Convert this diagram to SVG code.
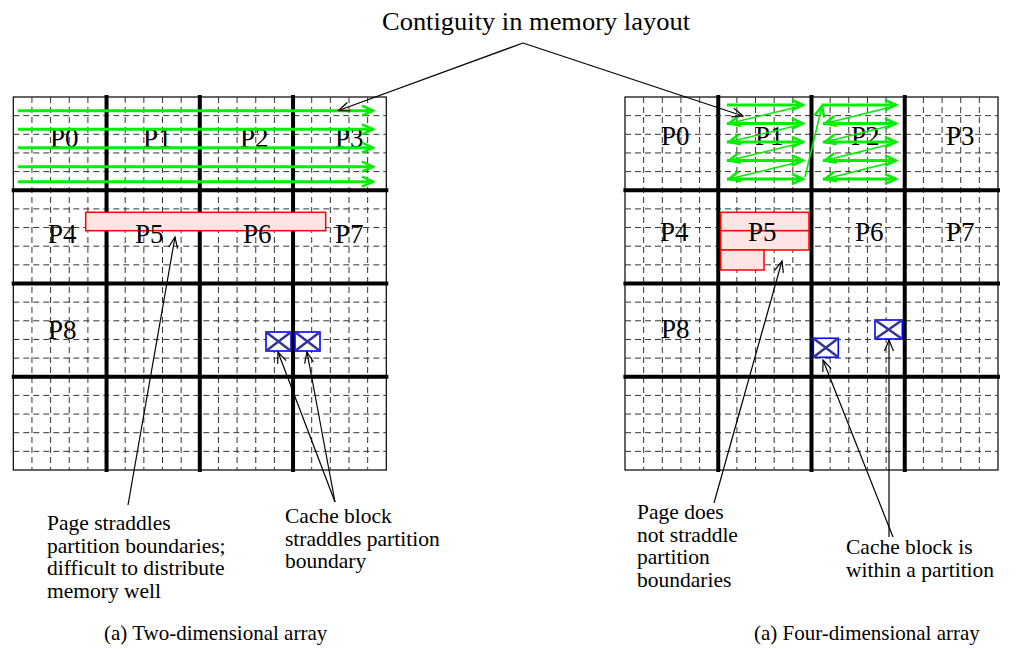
<svg xmlns="http://www.w3.org/2000/svg" xmlns:xlink="http://www.w3.org/1999/xlink" width="1024" height="649" viewBox="0 0 1024 649">
<style>
text{font-family:"Liberation Serif","Times New Roman",serif;fill:#000}
.p{font-size:27px}
.lbl{font-size:21.5px}
.cap{font-size:21px}
.title{font-size:26px}
.dash{fill:none;stroke:#333;stroke-width:1;stroke-dasharray:6 4}
.thick{fill:none;stroke:#000;stroke-width:4}
.border{fill:#fff;stroke:#000;stroke-width:1.2}
.page{fill:#ffe4e4;stroke:#f00;stroke-width:1.5}
.cb{fill:#fff;stroke:#0000ff;stroke-width:1.6}
.cx{fill:none;stroke:#333399;stroke-width:2.5}
.gr{fill:none;stroke:#00ee00;stroke-width:3;marker-end:url(#ga)}
.gd{fill:none;stroke:#00ee00;stroke-width:1.6;marker-end:url(#ga)}
.conn path{fill:none;stroke:#000;stroke-width:1.2;marker-end:url(#ba)}
</style>
<defs>
<marker id="ga" markerUnits="userSpaceOnUse" markerWidth="14" markerHeight="12" refX="11" refY="5" orient="auto" overflow="visible">
<path d="M0,0 L11,5 L0,10" fill="none" stroke="#00ee00" stroke-width="2.5"/>
</marker>
<marker id="ba" markerUnits="userSpaceOnUse" markerWidth="12" markerHeight="10" refX="11" refY="4.5" orient="auto" overflow="visible">
<path d="M0,0 L11,4.5 L0,9" fill="none" stroke="#000" stroke-width="1.2"/>
</marker>
<g id="grid">
<rect class="border" x="0" y="0" width="373" height="373"/>
<path class="dash" d="M18.65 0V373M37.3 0V373M55.95 0V373M74.6 0V373M111.9 0V373M130.55 0V373M149.2 0V373M167.85 0V373M205.15 0V373M223.8 0V373M242.45 0V373M261.1 0V373M298.4 0V373M317.05 0V373M335.7 0V373M354.35 0V373M0 18.65H373M0 37.3H373M0 55.95H373M0 74.6H373M0 111.9H373M0 130.55H373M0 149.2H373M0 167.85H373M0 205.15H373M0 223.8H373M0 242.45H373M0 261.1H373M0 298.4H373M0 317.05H373M0 335.7H373M0 354.35H373"/>
<path class="thick" d="M93.25 -2V375M186.5 -2V375M279.75 -2V375M-1.6 93.25H375M-1.6 186.5H375M-1.6 279.75H375"/>
</g>
</defs>
<rect width="1024" height="649" fill="#fff"/>

<g id="grid-2d"><use xlink:href="#grid" href="#grid" transform="translate(13.3,97)"/></g>
<g id="grid-4d"><use xlink:href="#grid" href="#grid" transform="translate(625,97)"/></g>

<g id="page-2d"><rect class="page" x="85.7" y="212.3" width="240" height="18.4"/></g>
<g id="page-4d">
<rect class="page" x="720.7" y="212.3" width="88.3" height="18.4"/>
<rect class="page" x="720.7" y="230.7" width="88.3" height="19.3"/>
<rect class="page" x="720.7" y="250" width="43.3" height="20"/>
</g>

<g id="cache-2d">
<rect class="cb" x="266" y="332" width="25" height="19"/>
<path class="cx" d="M266 332L291 351M266 351L291 332"/>
<rect class="cb" x="295" y="332" width="25" height="19"/>
<path class="cx" d="M295 332L320 351M295 351L320 332"/>
</g>
<g id="cache-4d-a">
<rect class="cb" x="813.3" y="338.3" width="25" height="19"/>
<path class="cx" d="M813.3 338.3L838.3 357.3M813.3 357.3L838.3 338.3"/>
</g>
<g id="cache-4d-b">
<rect class="cb" x="875" y="320" width="27.3" height="19"/>
<path class="cx" d="M875 320L902.3 339M875 339L902.3 320"/>
</g>

<g id="partitions-2d">
<text class="p" x="50" y="147">P0</text>
<text class="p" x="143" y="147">P1</text>
<text class="p" x="240" y="147">P2</text>
<text class="p" x="335" y="147">P3</text>
<text class="p" x="48" y="243">P4</text>
<text class="p" x="135" y="243">P5</text>
<text class="p" x="243" y="243">P6</text>
<text class="p" x="335" y="243">P7</text>
<text class="p" x="48" y="339">P8</text>
</g>
<g id="partitions-4d">
<text class="p" x="661" y="145">P0</text>
<text class="p" x="755" y="145">P1</text>
<text class="p" x="851" y="145">P2</text>
<text class="p" x="946" y="145">P3</text>
<text class="p" x="660" y="241">P4</text>
<text class="p" x="748" y="241">P5</text>
<text class="p" x="855" y="241">P6</text>
<text class="p" x="946" y="241">P7</text>
<text class="p" x="661" y="338">P8</text>
</g>

<g id="flow-2d">
<path class="gr" d="M18 110.7H373"/>
<path class="gr" d="M18 129.3H373"/>
<path class="gr" d="M18 147.7H373"/>
<path class="gr" d="M18 166.7H373"/>
<path class="gr" d="M18 181.7H373"/>
</g>
<g id="flow-4d">
<path class="gr" d="M727 105H803"/>
<path class="gr" d="M727 123.5H803"/>
<path class="gr" d="M727 142H803"/>
<path class="gr" d="M727 160.5H803"/>
<path class="gr" d="M727 179H803"/>
<path class="gd" d="M795 107.5L729 123.5"/>
<path class="gd" d="M795 126L729 142"/>
<path class="gd" d="M795 144.5L729 160.5"/>
<path class="gd" d="M795 163L729 179"/>
<path class="gd" d="M805 177L822 106"/>
<path class="gr" d="M823 105H896"/>
<path class="gr" d="M823 123.5H896"/>
<path class="gr" d="M823 142H896"/>
<path class="gr" d="M823 160.5H896"/>
<path class="gr" d="M823 179H896"/>
<path class="gd" d="M889 107.5L825 123.5"/>
<path class="gd" d="M889 126L825 142"/>
<path class="gd" d="M889 144.5L825 160.5"/>
<path class="gd" d="M889 163L825 179"/>
</g>

<g id="connectors" class="conn">
<path d="M523 43L338.5 110.5"/>
<path d="M523 43L743 116"/>
<path d="M128 505L175 237"/>
<path d="M335 502L278 352"/>
<path d="M335 502L307 352"/>
<path d="M714 503L782 261"/>
<path d="M893 537L823 360"/>
<path d="M889 537L889 340"/>
</g>

<g id="label-title"><text class="title" x="382" y="30" textLength="308" lengthAdjust="spacingAndGlyphs">Contiguity in memory layout</text></g>
<g id="label-page-2d">
<text class="lbl" x="47" y="530">Page straddles</text>
<text class="lbl" x="47" y="552.5">partition boundaries;</text>
<text class="lbl" x="47" y="575">difficult to distribute</text>
<text class="lbl" x="47" y="597.5">memory well</text>
</g>
<g id="label-cache-2d">
<text class="lbl" x="285" y="523">Cache block</text>
<text class="lbl" x="285" y="545.5">straddles partition</text>
<text class="lbl" x="285" y="568">boundary</text>
</g>
<g id="label-page-4d">
<text class="lbl" x="637" y="519">Page does</text>
<text class="lbl" x="637" y="541.5">not straddle</text>
<text class="lbl" x="637" y="564">partition</text>
<text class="lbl" x="637" y="586.5">boundaries</text>
</g>
<g id="label-cache-4d">
<text class="lbl" x="846" y="554">Cache block is</text>
<text class="lbl" x="846" y="576.5">within a partition</text>
</g>
<g id="caption-2d"><text class="cap" x="104" y="640">(a) Two-dimensional array</text></g>
<g id="caption-4d"><text class="cap" x="754" y="640">(a) Four-dimensional array</text></g>
</svg>
